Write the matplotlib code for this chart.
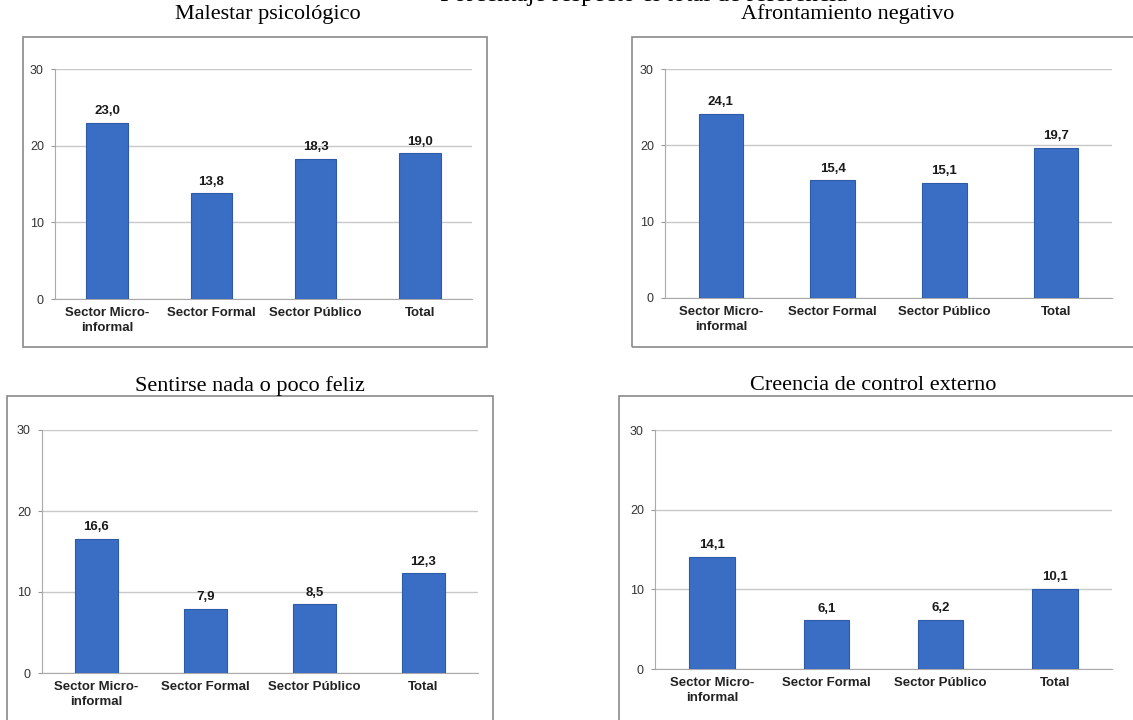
import matplotlib
matplotlib.use("Agg")
from matplotlib import pyplot as plt
from matplotlib.patches import Rectangle

categorias = ["Sector Micro-\ninformal", "Sector Formal", "Sector Público", "Total"]

malestar = [23.0, 13.8, 18.3, 19.0]
afrontamiento = [24.1, 15.4, 15.1, 19.7]
nada_feliz = [16.6, 7.9, 8.5, 12.3]
control_externo = [14.1, 6.1, 6.2, 10.1]

titulos = ["Malestar psicológico", "Afrontamiento negativo",
           "Sentirse nada o poco feliz", "Creencia de control externo"]
series = [malestar, afrontamiento, nada_feliz, control_externo]

W, H = 1133, 720

def fx(x):
    return x / W

def fy(y):
    return 1 - y / H

# axes in pixels: left, right, top(=30), bottom(=0)
ejes_px = [(55, 472, 69, 299), (665, 1112, 69, 298),
           (42, 478, 430, 673), (655, 1112, 430, 669)]
cajas_px = [(23, 487, 37, 347), (632, 1145, 37, 347),
            (7, 493, 396, 730), (619, 1145, 396, 730)]
titulo_px = [(268, 14), (848, 14), (250, 386), (873, 386)]

fig = plt.figure(figsize=(W / 100, H / 100), dpi=100)
fig.patch.set_facecolor("white")

# the header is cut at the top edge, as in the source image
fig.text(fx(644), fy(-5), "Porcentaje respecto el total de referencia",
         ha="center", va="center", fontsize=18, family="Liberation Serif")

for i in range(4):
    l, r, t, b = ejes_px[i]
    cl, cr, ct, cb = cajas_px[i]
    fig.add_artist(Rectangle((fx(cl), fy(cb)), fx(cr - cl), (cb - ct) / H,
                             transform=fig.transFigure, fill=False,
                             edgecolor="#8a8a8a", lw=1.2))
    tx, ty = titulo_px[i]
    fig.text(fx(tx), fy(ty), titulos[i], ha="center", va="center",
             fontsize=16, family="Liberation Serif")

    ax = fig.add_axes([fx(l), fy(b), fx(r - l), (b - t) / H])
    vals = series[i]
    pos = range(len(categorias))
    ax.bar(pos, vals, width=0.4, color="#3a6ec4", edgecolor="#2c5aa6",
           lw=0.8, zorder=3)
    for p, v in zip(pos, vals):
        ax.annotate(f"{v:.1f}".replace(".", ","), (p, v), xytext=(0, 4),
                    textcoords="offset points", ha="center", va="bottom",
                    fontsize=9.5, fontweight="bold", color="#1a1a1a",
                    family="Liberation Sans")
    ax.set_ylim(0, 30)
    ax.set_xlim(-0.5, 3.5)
    ax.set_yticks([0, 10, 20, 30])
    ax.set_xticks(list(pos))
    ax.set_xticklabels(categorias, fontsize=9.5, fontweight="bold",
                       color="#222222", family="Liberation Sans",
                       linespacing=1.25)
    for lab in ax.get_yticklabels():
        lab.set_fontsize(9)
        lab.set_family("Liberation Sans")
        lab.set_color("#333333")
    ax.tick_params(axis="x", length=0, pad=6)
    ax.tick_params(axis="y", length=3, color="#999999", pad=5)
    ax.yaxis.grid(True, color="#c8c8c8", lw=1, zorder=0)
    for s in ["top", "right"]:
        ax.spines[s].set_visible(False)
    ax.spines["left"].set_color("#aaaaaa")
    ax.spines["bottom"].set_color("#aaaaaa")

fig.savefig("out.png", dpi=100)
